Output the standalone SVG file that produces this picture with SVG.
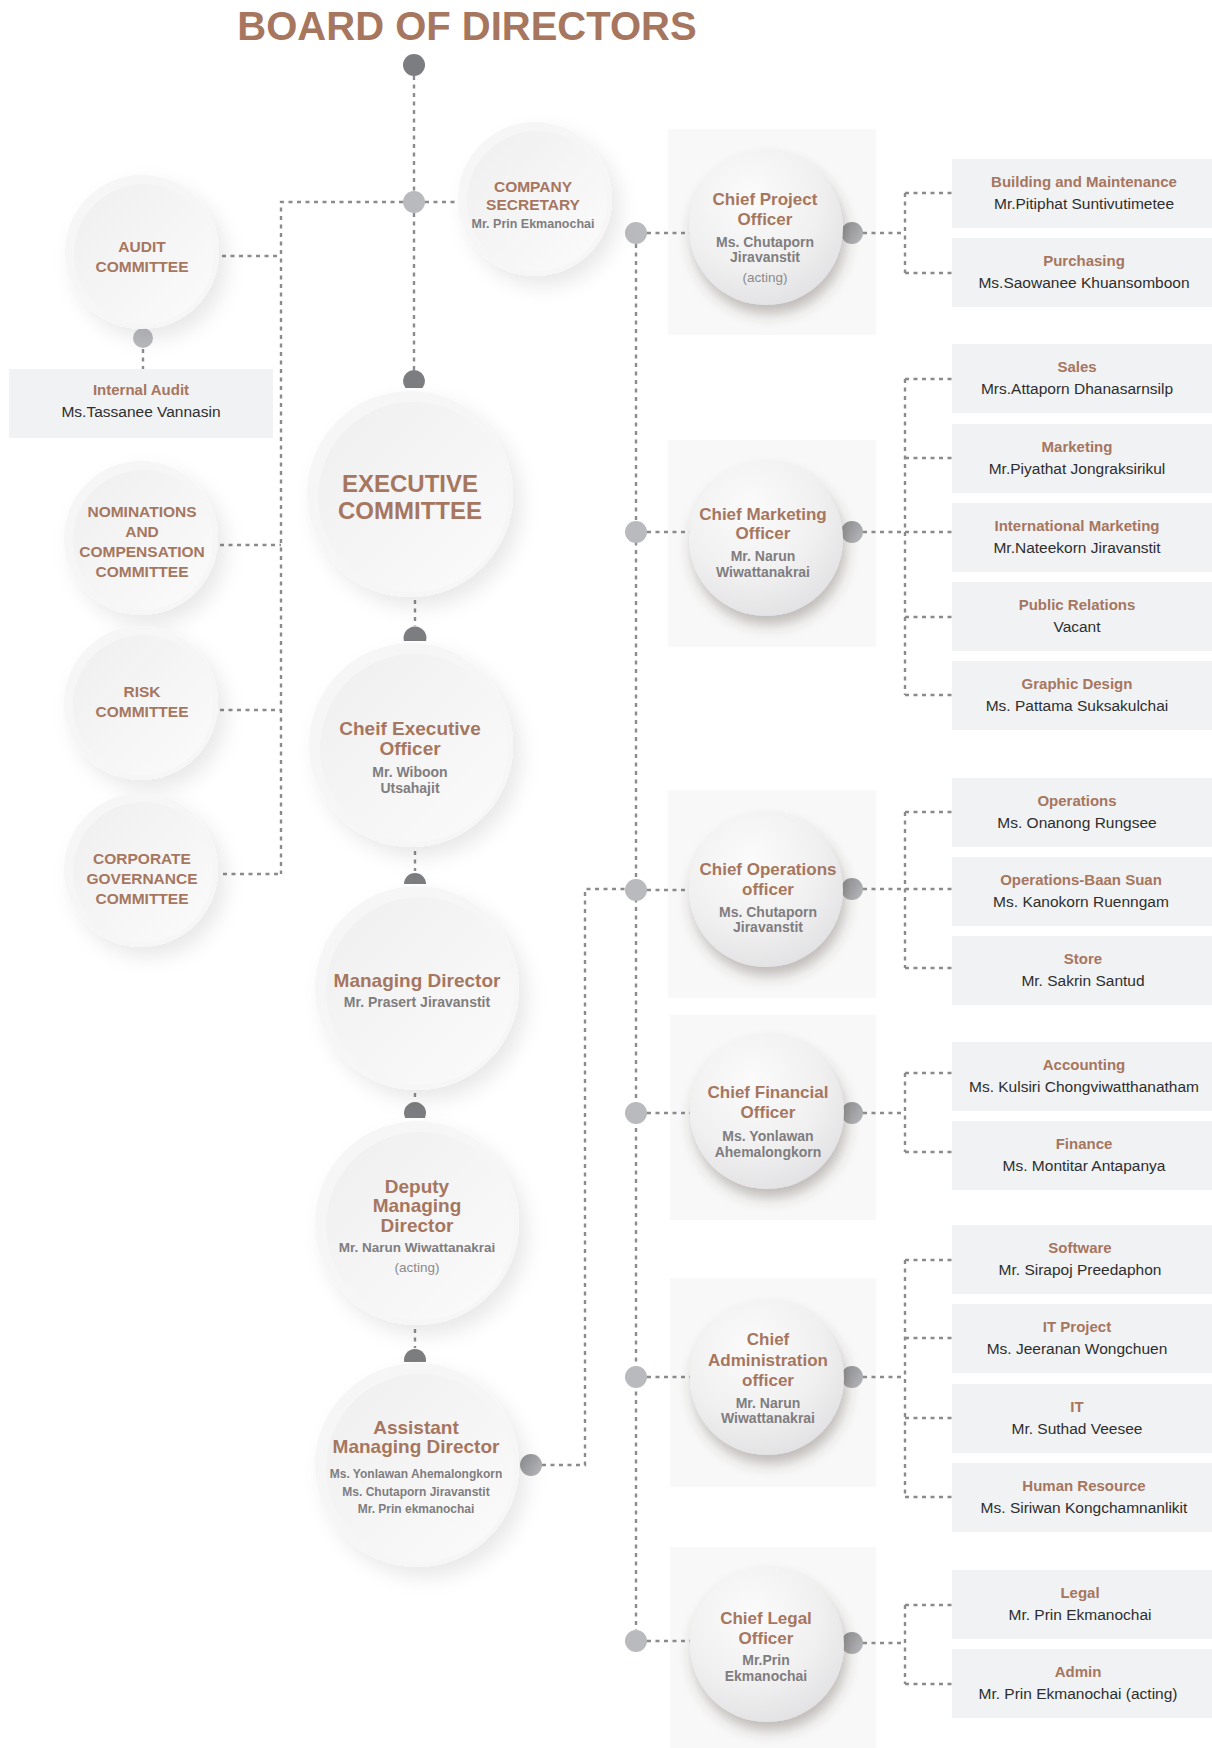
<svg xmlns="http://www.w3.org/2000/svg" width="1212" height="1748" viewBox="0 0 1212 1748">
<style>
text{font-family:"Liberation Sans",Arial,sans-serif;text-anchor:middle}
.title{font-size:40px;font-weight:bold;fill:#a6765f}
.cm{font-size:15.5px;font-weight:bold;fill:#a6765f}
.ex{font-size:24px;font-weight:bold;fill:#a6765f}
.ct{font-size:19px;font-weight:bold;fill:#a6765f}
.ch{font-size:17px;font-weight:bold;fill:#a6765f}
.nm{font-size:14px;font-weight:bold;fill:#807d7f}
.nms{font-size:12px;font-weight:bold;fill:#807d7f}
.act{font-size:13.5px;fill:#8c8a8b}
.bt{font-size:15px;font-weight:bold;fill:#a6765f}
.bn{font-size:15.5px;fill:#2e2e2e}
.box{fill:#f1f2f4}
.bg{fill:#f8f8f8}
.ln{fill:none;stroke:#8a8b8e;stroke-width:2.4;stroke-dasharray:4 4.5}
.dk{fill:#7b7d80}
.lt{fill:#b9babd}
.rd{fill:url(#gd)}
.fo{fill:#f6f6f7}
.fi{fill:url(#gf)}
.cc{fill:url(#gc)}
</style>
<defs>
<filter id="sh" x="-30%" y="-30%" width="170%" height="170%"><feDropShadow dx="8" dy="10" stdDeviation="10" flood-color="#000" flood-opacity="0.09"/></filter>
<filter id="sh2" x="-30%" y="-30%" width="170%" height="170%"><feDropShadow dx="3" dy="9" stdDeviation="7" flood-color="#4a3a35" flood-opacity="0.33"/></filter>
<linearGradient id="gf" x1="0" y1="0" x2="1" y2="1"><stop offset="0" stop-color="#efeff0"/><stop offset="1" stop-color="#fbfbfb"/></linearGradient>
<radialGradient id="gc" cx="40%" cy="30%" r="75%"><stop offset="0" stop-color="#fbfbfb"/><stop offset="0.6" stop-color="#f0f0f1"/><stop offset="1" stop-color="#e1e1e3"/></radialGradient>
<linearGradient id="gd" x1="0" y1="0" x2="1" y2="1"><stop offset="0" stop-color="#8e9093"/><stop offset="1" stop-color="#b8b9bc"/></linearGradient>
</defs>
<rect width="1212" height="1748" fill="#ffffff"/>

<g id="backgrounds">
<rect class="bg" x="668" y="129" width="208" height="206"/>
<rect class="bg" x="668" y="440" width="208" height="207"/>
<rect class="bg" x="668" y="790" width="208" height="208"/>
<rect class="bg" x="670" y="1015" width="206" height="205"/>
<rect class="bg" x="670" y="1278" width="206" height="209"/>
<rect class="bg" x="670" y="1547" width="206" height="201"/>
</g>

<text class="title" x="467" y="40">BOARD OF DIRECTORS</text>

<g id="connectors">
<path class="ln" d="M414,76V191M414,213V372"/>
<path class="ln" d="M403,202H281V874M425,202H458"/>
<path class="ln" d="M222,256H281M220,545H281M220,710H281M223,874H281"/>
<path class="ln" d="M143,349V369"/>
<path class="ln" d="M415,600V626M415,851V871M415,1093V1101M415,1329V1348"/>
<path class="ln" d="M542,1465H585V889H625"/>
<path class="ln" d="M636,244V1630"/>
<path class="ln" d="M647,233H690M647,532H690M647,890H690M647,1113H690M647,1377H690M647,1641H690"/>
<path class="ln" d="M863,233H905M905,193V273M905,193H952M905,273H952"/>
<path class="ln" d="M863,532H905M905,379V695M905,379H952M905,458H952M905,532H952M905,617H952M905,695H952"/>
<path class="ln" d="M863,889H905M905,812V968M905,812H952M905,968H952M905,889H952"/>
<path class="ln" d="M863,1113H905M905,1073V1152M905,1073H952M905,1152H952"/>
<path class="ln" d="M863,1377H905M905,1260V1497M905,1260H952M905,1338H952M905,1418H952M905,1497H952"/>
<path class="ln" d="M863,1643H905M905,1605V1684M905,1605H952M905,1684H952"/>
</g>

<g id="dots">
<circle class="dk" cx="414" cy="65" r="11"/>
<circle class="lt" cx="414" cy="202" r="11"/>
<circle class="lt" cx="143" cy="338" r="10"/>
<path class="dk" d="M405.5,388A11,11 0 1 1 422.5,388Z"/>
<path class="dk" d="M403.9,641A11.5,11.5 0 1 1 426.1,641Z"/>
<path class="dk" d="M404,884A11,11 0 1 1 426,884Z"/>
<path class="dk" d="M405.2,1118A11,11 0 1 1 424.8,1118Z"/>
<path class="dk" d="M404.2,1362A11,11 0 1 1 425.8,1362Z"/>
<circle class="rd" cx="531" cy="1465" r="11"/>
<circle class="lt" cx="636" cy="233" r="11"/>
<circle class="lt" cx="636" cy="532" r="11"/>
<circle class="lt" cx="636" cy="890" r="11"/>
<circle class="lt" cx="636" cy="1113" r="11"/>
<circle class="lt" cx="636" cy="1377" r="11"/>
<circle class="lt" cx="636" cy="1641" r="11"/>
<circle class="rd" cx="852" cy="233" r="11"/>
<circle class="rd" cx="852" cy="532" r="11"/>
<circle class="rd" cx="852" cy="889" r="11"/>
<circle class="rd" cx="852" cy="1113" r="11"/>
<circle class="rd" cx="852" cy="1377" r="11"/>
<circle class="rd" cx="852" cy="1643" r="11"/>
</g>

<g id="audit-committee">
<circle class="fo" cx="142" cy="252" r="77" filter="url(#sh)"/><circle class="fi" cx="144" cy="254" r="70"/>
<text class="cm" x="142" y="252">AUDIT</text><text class="cm" x="142" y="272">COMMITTEE</text>
</g>
<g id="internal-audit">
<rect class="box" x="9" y="369" width="264" height="69"/>
<text class="bt" x="141" y="395">Internal Audit</text><text class="bn" x="141" y="417">Ms.Tassanee Vannasin</text>
</g>
<g id="nominations-committee">
<circle class="fo" cx="141" cy="538" r="77" filter="url(#sh)"/><circle class="fi" cx="143" cy="540" r="70"/>
<text class="cm" x="142" y="517">NOMINATIONS</text><text class="cm" x="142" y="537">AND</text><text class="cm" x="142" y="557">COMPENSATION</text><text class="cm" x="142" y="577">COMMITTEE</text>
</g>
<g id="risk-committee">
<circle class="fo" cx="141" cy="703" r="77" filter="url(#sh)"/><circle class="fi" cx="143" cy="705" r="70"/>
<text class="cm" x="142" y="697">RISK</text><text class="cm" x="142" y="717">COMMITTEE</text>
</g>
<g id="cg-committee">
<circle class="fo" cx="141" cy="870" r="77" filter="url(#sh)"/><circle class="fi" cx="143" cy="872" r="70"/>
<text class="cm" x="142" y="864">CORPORATE</text><text class="cm" x="142" y="884">GOVERNANCE</text><text class="cm" x="142" y="904">COMMITTEE</text>
</g>
<g id="company-secretary">
<circle class="fo" cx="535" cy="199" r="77" filter="url(#sh)"/><circle class="fi" cx="537" cy="201" r="70"/>
<text class="cm" x="533" y="192">COMPANY</text><text class="cm" x="533" y="210">SECRETARY</text><text class="nms" x="533" y="228" style="font-size:12.5px">Mr. Prin Ekmanochai</text>
</g>

<g id="executive-committee">
<circle class="fo" cx="410" cy="494" r="103" filter="url(#sh)"/><circle class="fi" cx="413" cy="497" r="95"/>
<text class="ex" x="410" y="492">EXECUTIVE</text><text class="ex" x="410" y="519">COMMITTEE</text>
</g>
<g id="ceo">
<circle class="fo" cx="411" cy="745" r="102" filter="url(#sh)"/><circle class="fi" cx="414" cy="748" r="94"/>
<text class="ct" x="410" y="735">Cheif Executive</text><text class="ct" x="410" y="755">Officer</text>
<text class="nm" x="410" y="777">Mr. Wiboon</text><text class="nm" x="410" y="793">Utsahajit</text>
</g>
<g id="managing-director">
<circle class="fo" cx="417" cy="988" r="102" filter="url(#sh)"/><circle class="fi" cx="420" cy="991" r="94"/>
<text class="ct" x="417" y="987">Managing Director</text><text class="nm" x="417" y="1007">Mr. Prasert Jiravanstit</text>
</g>
<g id="deputy-md">
<circle class="fo" cx="417" cy="1223" r="102" filter="url(#sh)"/><circle class="fi" cx="420" cy="1226" r="94"/>
<text class="ct" x="417" y="1193">Deputy</text><text class="ct" x="417" y="1212">Managing</text><text class="ct" x="417" y="1232">Director</text>
<text class="nm" x="417" y="1252" style="font-size:13.5px">Mr. Narun Wiwattanakrai</text><text class="act" x="417" y="1272">(acting)</text>
</g>
<g id="assistant-md">
<circle class="fo" cx="417" cy="1465" r="102" filter="url(#sh)"/><circle class="fi" cx="420" cy="1468" r="94"/>
<text class="ct" x="416" y="1434">Assistant</text><text class="ct" x="416" y="1453">Managing Director</text>
<text class="nms" x="416" y="1478">Ms. Yonlawan Ahemalongkorn</text><text class="nms" x="416" y="1496">Ms. Chutaporn Jiravanstit</text><text class="nms" x="416" y="1513">Mr. Prin ekmanochai</text>
</g>

<g id="cpo">
<circle class="cc" cx="766" cy="228" r="77" filter="url(#sh2)"/>
<text class="ch" x="765" y="205">Chief Project</text><text class="ch" x="765" y="225">Officer</text>
<text class="nm" x="765" y="247">Ms. Chutaporn</text><text class="nm" x="765" y="262">Jiravanstit</text><text class="act" x="765" y="282">(acting)</text>
</g>
<g id="cmo">
<circle class="cc" cx="766" cy="539" r="77" filter="url(#sh2)"/>
<text class="ch" x="763" y="520">Chief Marketing</text><text class="ch" x="763" y="539">Officer</text>
<text class="nm" x="763" y="561">Mr. Narun</text><text class="nm" x="763" y="577">Wiwattanakrai</text>
</g>
<g id="coo">
<circle class="cc" cx="766" cy="890" r="77" filter="url(#sh2)"/>
<text class="ch" x="768" y="875">Chief Operations</text><text class="ch" x="768" y="895">officer</text>
<text class="nm" x="768" y="917">Ms. Chutaporn</text><text class="nm" x="768" y="932">Jiravanstit</text>
</g>
<g id="cfo">
<circle class="cc" cx="767" cy="1112" r="77" filter="url(#sh2)"/>
<text class="ch" x="768" y="1098">Chief Financial</text><text class="ch" x="768" y="1118">Officer</text>
<text class="nm" x="768" y="1141">Ms. Yonlawan</text><text class="nm" x="768" y="1157">Ahemalongkorn</text>
</g>
<g id="cao">
<circle class="cc" cx="767" cy="1378" r="77" filter="url(#sh2)"/>
<text class="ch" x="768" y="1345">Chief</text><text class="ch" x="768" y="1366">Administration</text><text class="ch" x="768" y="1386">officer</text>
<text class="nm" x="768" y="1408">Mr. Narun</text><text class="nm" x="768" y="1423">Wiwattanakrai</text>
</g>
<g id="clo">
<circle class="cc" cx="767" cy="1645" r="77" filter="url(#sh2)"/>
<text class="ch" x="766" y="1624">Chief Legal</text><text class="ch" x="766" y="1644">Officer</text>
<text class="nm" x="766" y="1665">Mr.Prin</text><text class="nm" x="766" y="1681">Ekmanochai</text>
</g>

<g id="building"><rect class="box" x="952" y="159" width="260" height="69"/><text class="bt" x="1084" y="187">Building and Maintenance</text><text class="bn" x="1084" y="209">Mr.Pitiphat Suntivutimetee</text></g>
<g id="purchasing"><rect class="box" x="952" y="238" width="260" height="69"/><text class="bt" x="1084" y="266">Purchasing</text><text class="bn" x="1084" y="288">Ms.Saowanee Khuansomboon</text></g>

<g id="sales"><rect class="box" x="952" y="344" width="260" height="69"/><text class="bt" x="1077" y="372">Sales</text><text class="bn" x="1077" y="394">Mrs.Attaporn Dhanasarnsilp</text></g>
<g id="marketing"><rect class="box" x="952" y="424" width="260" height="69"/><text class="bt" x="1077" y="452">Marketing</text><text class="bn" x="1077" y="474">Mr.Piyathat Jongraksirikul</text></g>
<g id="intl-marketing"><rect class="box" x="952" y="503" width="260" height="69"/><text class="bt" x="1077" y="531">International Marketing</text><text class="bn" x="1077" y="553">Mr.Nateekorn Jiravanstit</text></g>
<g id="pr"><rect class="box" x="952" y="582" width="260" height="69"/><text class="bt" x="1077" y="610">Public Relations</text><text class="bn" x="1077" y="632">Vacant</text></g>
<g id="graphic"><rect class="box" x="952" y="661" width="260" height="69"/><text class="bt" x="1077" y="689">Graphic Design</text><text class="bn" x="1077" y="711">Ms. Pattama Suksakulchai</text></g>

<g id="operations"><rect class="box" x="952" y="778" width="260" height="69"/><text class="bt" x="1077" y="806">Operations</text><text class="bn" x="1077" y="828">Ms. Onanong Rungsee</text></g>
<g id="baan-suan"><rect class="box" x="952" y="857" width="260" height="69"/><text class="bt" x="1081" y="885">Operations-Baan Suan</text><text class="bn" x="1081" y="907">Ms. Kanokorn Ruenngam</text></g>
<g id="store"><rect class="box" x="952" y="936" width="260" height="69"/><text class="bt" x="1083" y="964">Store</text><text class="bn" x="1083" y="986">Mr. Sakrin Santud</text></g>

<g id="accounting"><rect class="box" x="952" y="1042" width="260" height="69"/><text class="bt" x="1084" y="1070">Accounting</text><text class="bn" x="1084" y="1092">Ms. Kulsiri Chongviwatthanatham</text></g>
<g id="finance"><rect class="box" x="952" y="1121" width="260" height="69"/><text class="bt" x="1084" y="1149">Finance</text><text class="bn" x="1084" y="1171">Ms. Montitar Antapanya</text></g>

<g id="software"><rect class="box" x="952" y="1225" width="260" height="69"/><text class="bt" x="1080" y="1253">Software</text><text class="bn" x="1080" y="1275">Mr. Sirapoj Preedaphon</text></g>
<g id="it-project"><rect class="box" x="952" y="1304" width="260" height="69"/><text class="bt" x="1077" y="1332">IT Project</text><text class="bn" x="1077" y="1354">Ms. Jeeranan Wongchuen</text></g>
<g id="it"><rect class="box" x="952" y="1384" width="260" height="69"/><text class="bt" x="1077" y="1412">IT</text><text class="bn" x="1077" y="1434">Mr. Suthad Veesee</text></g>
<g id="hr"><rect class="box" x="952" y="1463" width="260" height="69"/><text class="bt" x="1084" y="1491">Human Resource</text><text class="bn" x="1084" y="1513">Ms. Siriwan Kongchamnanlikit</text></g>

<g id="legal"><rect class="box" x="952" y="1570" width="260" height="69"/><text class="bt" x="1080" y="1598">Legal</text><text class="bn" x="1080" y="1620">Mr. Prin Ekmanochai</text></g>
<g id="admin"><rect class="box" x="952" y="1649" width="260" height="69"/><text class="bt" x="1078" y="1677">Admin</text><text class="bn" x="1078" y="1699">Mr. Prin Ekmanochai (acting)</text></g>
</svg>
